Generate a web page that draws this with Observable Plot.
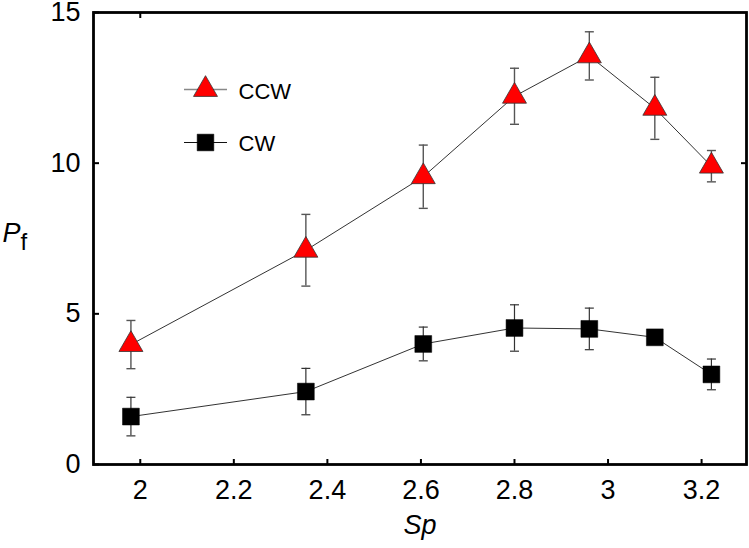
<!DOCTYPE html>
<html><head><meta charset="utf-8">
<script src="https://cdn.jsdelivr.net/npm/d3@7"></script>
<script src="https://cdn.jsdelivr.net/npm/@observablehq/plot@0.6"></script>
<style>html,body{margin:0;padding:0;background:#fff;} svg{display:block;}</style>
</head><body><div id="chart"></div>
<script>
const sp = [1.98, 2.354, 2.605, 2.80, 2.96, 3.10, 3.221];
const ccw = [3.98, 7.11, 9.55, 12.22, 13.56, 11.82, 9.90];
const ccwErr = [0.80, 1.19, 1.05, 0.93, 0.80, 1.03, 0.52];
const cw = [1.59, 2.42, 4.00, 4.53, 4.50, 4.22, 2.99];
const cwErr = [0.64, 0.77, 0.56, 0.77, 0.69, 0.20, 0.51];
const xTicks = [2, 2.2, 2.4, 2.6, 2.8, 3, 3.2];
const yTicks = [0, 5, 10, 15];
const seriesNames = ["CCW", "CW"];

const rows = sp.map((x, i) => ({sp: x, ccw: ccw[i], ccwErr: ccwErr[i], cw: cw[i], cwErr: cwErr[i]}));
const cap = {draw(c) { c.moveTo(-4.5, 0); c.lineTo(4.5, 0); }};
const legLine = {draw(c) { c.moveTo(-21.5, 0); c.lineTo(21.5, 0); }};
const font = "'Liberation Sans', Arial, Helvetica, sans-serif";
const fmt = d => String(d);

const chart = Plot.plot({
  width: 749, height: 548,
  marginLeft: 93, marginRight: 3, marginTop: 12, marginBottom: 84,
  x: {domain: [1.9, 3.296]},
  y: {domain: [0, 15]},
  style: {fontFamily: font, fontSize: "27px", color: "black", background: "white", overflow: "visible"},
  marks: [
    Plot.axisX({ticks: xTicks, tickFormat: fmt, tickSize: 0, tickPadding: 15, label: null}),
    Plot.axisX({ticks: xTicks, tickSize: -5, fill: "none", label: null, strokeWidth: 2}),
    Plot.axisX({anchor: "top", ticks: [2], tickSize: -5, fill: "none", label: null, strokeWidth: 2}),
    Plot.axisY({ticks: yTicks, tickFormat: fmt, tickSize: 0, tickPadding: 13, label: null}),
    Plot.axisY({ticks: yTicks, tickSize: -6, fill: "none", label: null, strokeWidth: 2}),
    Plot.axisY({anchor: "right", ticks: [10], tickSize: -6, fill: "none", label: null, strokeWidth: 2}),
    // error bars
    Plot.ruleX(rows, {x: "sp", y1: d => d.ccw - d.ccwErr, y2: d => d.ccw + d.ccwErr, stroke: "#555", strokeWidth: 1.4}),
    Plot.dot(rows, {x: "sp", y: d => d.ccw + d.ccwErr, symbol: cap, fill: "none", stroke: "#555", strokeWidth: 1.4}),
    Plot.dot(rows, {x: "sp", y: d => d.ccw - d.ccwErr, symbol: cap, fill: "none", stroke: "#555", strokeWidth: 1.4}),
    Plot.ruleX(rows, {x: "sp", y1: d => d.cw - d.cwErr, y2: d => d.cw + d.cwErr, stroke: "#333", strokeWidth: 1.2}),
    Plot.dot(rows, {x: "sp", y: d => d.cw + d.cwErr, symbol: cap, fill: "none", stroke: "#333", strokeWidth: 1.2}),
    Plot.dot(rows, {x: "sp", y: d => d.cw - d.cwErr, symbol: cap, fill: "none", stroke: "#333", strokeWidth: 1.2}),
    // lines
    Plot.line(rows, {x: "sp", y: "ccw", stroke: "#333", strokeWidth: 1}),
    Plot.line(rows, {x: "sp", y: "cw", stroke: "#333", strokeWidth: 1}),
    // markers
    Plot.dot(rows, {x: "sp", y: "ccw", symbol: "triangle", r: 8.9, fill: "red", stroke: "#333", strokeWidth: 0.8}),
    Plot.dot(rows, {x: "sp", y: "cw", symbol: "square", r: 9.5, fill: "black", stroke: "black", strokeWidth: 0.5}),
    // frame
    Plot.frame({stroke: "black", strokeWidth: 2.8}),
    // axis labels
    Plot.text(["Sp"], {frameAnchor: "bottom", dy: 61, lineAnchor: "middle", fontStyle: "italic", fontSize: 27}),
    Plot.text(["P"], {frameAnchor: "left", dx: -91, dy: -5, textAnchor: "start", lineAnchor: "middle", fontStyle: "italic", fontSize: 27}),
    Plot.text(["f"], {frameAnchor: "left", dx: -73, dy: 4, textAnchor: "start", lineAnchor: "middle", fontSize: 24}),
    // legend
    Plot.dot([seriesNames[0]], {frameAnchor: "top-left", dx: 112, dy: 77, symbol: legLine, fill: "none", stroke: "#888", strokeWidth: 1.4}),
    Plot.dot([seriesNames[0]], {frameAnchor: "top-left", dx: 112, dy: 77, symbol: "triangle", r: 8.9, fill: "red", stroke: "#333", strokeWidth: 0.8}),
    Plot.text([seriesNames[0]], {frameAnchor: "top-left", dx: 145, dy: 79, textAnchor: "start", lineAnchor: "middle", fontSize: 22}),
    Plot.dot([seriesNames[1]], {frameAnchor: "top-left", dx: 112, dy: 130, symbol: legLine, fill: "none", stroke: "#111", strokeWidth: 1.2}),
    Plot.dot([seriesNames[1]], {frameAnchor: "top-left", dx: 112, dy: 130, symbol: "square", r: 9.4, fill: "black", stroke: "black", strokeWidth: 0.5}),
    Plot.text([seriesNames[1]], {frameAnchor: "top-left", dx: 145, dy: 131, textAnchor: "start", lineAnchor: "middle", fontSize: 22})
  ]
});
document.getElementById("chart").appendChild(chart);
</script>
</body></html>
